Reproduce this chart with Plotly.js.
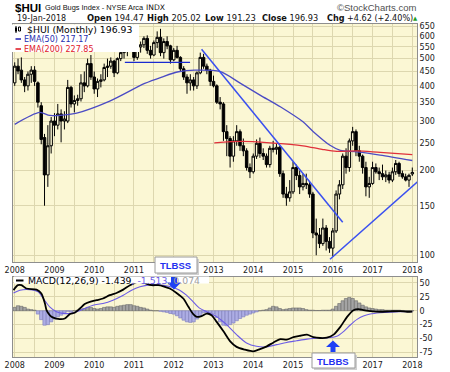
<!DOCTYPE html>
<html><head><meta charset="utf-8">
<script src="https://cdn.plot.ly/plotly-3.0.1.min.js"></script>
<style>html,body{margin:0;padding:0;background:#fff}#chart{width:450px;height:372px}</style>
</head><body><div id="chart"></div>
<script>
// ---------------- DATA ----------------
const firstYear = 2008, lastYear = 2018;
const yearTicks = [2008,2009,2010,2011,2012,2013,2014,2015,2016,2017,2018];
// labels as visible in the picture (2012 hidden by the TLBSS box, 2016 by the TLBBS box)
const topYearLabels = ['2008','2009','2010','2011','','2013','2014','2015','2016','2017','2018'];
const bottomYearLabels = ['2008','2009','2010','2011','2012','2013','2014','2015','','2017','2018'];
const priceTicks = [100,150,200,250,300,350,400,450,500,550,600,650];
const priceLabels = ['100','150','200','250','300','350','400','450','500','550','600','650'];
const macdTicks = [50,25,0,-25,-50,-75];
const macdLabels = ['50','25','0','-25','-50','-75'];

// Monthly OHLC, Jan 2008 .. Jan 2018
const open = [
 410,470,455,420,400,440,455,410,340,262,193,245,
 300,290,318,300,300,395,345,355,360,410,400,480,
 430,390,415,420,465,470,490,445,500,525,545,560,
 570,505,550,560,590,535,515,570,595,525,575,555,
 495,535,505,460,430,410,420,400,445,505,470,455,
 415,400,350,345,275,260,225,255,275,245,235,205,
 198,225,250,230,225,210,240,238,242,195,165,160,
 168,205,192,175,180,178,165,120,118,110,125,112,
 106,122,165,178,225,205,255,275,235,225,205,175,
 180,205,198,195,190,193,185,198,212,195,190,185,
 194.47];
const high = [
 485,500,505,430,450,470,470,415,350,270,290,310,
 320,345,330,325,420,400,370,372,440,450,500,515,
 450,425,440,480,500,505,495,505,530,555,575,580,
 575,560,575,600,605,555,580,625,638,590,600,560,
 545,555,510,470,440,440,430,450,525,520,480,460,
 435,405,365,350,290,265,265,290,280,260,240,212,
 230,258,262,240,230,245,255,250,245,200,175,185,
 215,210,200,195,195,182,168,135,125,135,128,116,
 125,170,185,230,240,260,286,280,245,228,215,190,
 215,212,205,210,200,198,205,218,215,200,195,195,
 205.02];
const low = [
 400,440,410,380,385,410,400,335,248,150,175,230,
 265,280,252,280,295,335,322,340,352,380,395,420,
 375,365,395,415,430,460,430,440,490,500,510,535,
 490,495,525,545,520,500,510,545,510,500,540,480,
 490,500,450,420,375,385,385,390,440,460,440,400,
 395,345,330,255,225,205,215,245,235,225,200,188,
 195,220,222,218,205,205,232,228,190,160,150,155,
 165,185,165,170,172,160,115,100,106,108,104,102,
 99,120,158,172,195,198,245,225,215,195,162,160,
 178,195,185,185,182,180,182,193,190,187,183,175,
 191.23];
const close = [
 470,452,420,400,440,455,415,350,258,193,245,300,
 290,318,300,305,395,345,355,360,410,400,480,430,
 390,415,420,465,470,490,445,500,525,545,560,570,
 505,550,560,590,535,515,570,595,525,575,555,495,
 535,505,460,430,410,420,400,445,505,470,455,415,
 400,350,345,275,260,225,255,275,245,235,205,198,
 225,250,230,225,210,240,238,242,195,165,160,168,
 205,192,175,180,178,165,120,118,110,125,112,106,
 122,165,178,225,205,255,275,235,225,205,175,180,
 205,198,195,190,193,185,198,212,195,190,185,192.31,
 196.93];

// EMA lines
const ema50X = [2008.0,2008.63,2008.88,2009.21,2009.56,2010.39,2011.27,2011.7,2012.12,2012.53,2013.16,2013.67,2014.17,2014.68,2015.25,2015.51,2015.93,2016.19,2016.61,2017.19,2018.0];
const ema50Y = [292,322,314,315,320,353,408,430,449,455,450,409,371,337,298,275,246,236,233,227,217.17];
const ema200X = [2013.02,2013.72,2014.42,2015.25,2015.73,2016.10,2016.61,2017.19,2018.0];
const ema200Y = [251,254,251,245,238,234,235,232,227.85];

// Trend lines
const trendDownX = [2012.70, 2016.25], trendDownY = [540, 131];
const trendUpX = [2015.93, 2018.2], trendUpY = [96.8, 186];
const supportX = [2010.77, 2012.41], supportY = [485, 485];

// MACD(12,26,9)
const macdX = [2007.97,2008.08,2008.17,2008.29,2008.55,2008.67,2008.76,2008.80,2008.88,2008.97,2009.13,2009.26,2009.39,2009.51,2009.64,2009.76,2009.89,2010.06,2010.22,2010.39,2010.56,2010.73,2010.90,2011.10,2011.25,2011.44,2011.61,2011.74,2011.90,2012.07,2012.24,2012.37,2012.49,2012.58,2012.70,2012.83,2012.95,2013.08,2013.25,2013.42,2013.58,2013.79,2014.00,2014.17,2014.34,2014.51,2014.68,2014.84,2015.01,2015.18,2015.35,2015.51,2015.68,2015.85,2016.02,2016.19,2016.36,2016.52,2016.65,2016.77,2016.94,2017.19,2017.45,2017.70,2017.87,2018.00];
const macdV = [37,46,46,40,38,31,13,1,-7.7,-12.5,-15,-14,-6,-3.6,4,12,16,19,22,28,32,38,46,52,50,46,46,44,40,32,22,7,-6,-11,-9.5,-5,-8,-20,-37,-55,-65,-70,-73,-69,-64,-57,-51,-52,-47.5,-45,-43,-47.5,-49,-48.5,-43,-29,-11,1,3,1,-0.6,-1.8,-1,-0.6,-1.8,-1.439];
const signalX = [2007.97,2008.13,2008.38,2008.59,2008.72,2008.88,2009.05,2009.21,2009.39,2009.56,2009.76,2009.97,2010.22,2010.47,2010.73,2010.94,2011.15,2011.40,2011.65,2011.90,2012.15,2012.32,2012.49,2012.66,2012.83,2013.08,2013.33,2013.58,2013.83,2014.08,2014.34,2014.59,2014.84,2015.09,2015.35,2015.60,2015.85,2016.10,2016.27,2016.44,2016.61,2016.77,2016.94,2017.19,2017.45,2017.70,2018.00];
const signalV = [32,37,38,34,22,7,-1.8,-4.8,-4.8,-1.8,4.2,10,13,19,28,37,43,46.6,46.6,43.6,37,28,16,4.2,-1.8,-10.7,-25,-43,-58,-64,-65,-61,-57,-54,-51,-49,-49,-46,-37.5,-25.6,-15.5,-9.5,-6,-3.6,-2.4,-1.8,-1.513];
const histV = [
 6,9,8,6,3,2,1,-6,-16,-26,-25,-20,
 -15,-11,-8,-4,-1,-2,0,1,3,4,6,6,
 4,3,4,6,7,7,6,8,9,10,11,11,
 9,8,6,5,3,1,0,0,-1,-2,-3,-5,
 -6,-9,-13,-17,-20,-21,-20,-15,-9,-4,-3,-4,
 -6,-12,-20,-26,-27,-25,-22,-18,-14,-11,-8,-6,
 -4,-2,0,1,2,5,8,7,4,2,3,4,
 5,5,5,4,2,1,1,0.5,0.5,1,1,1,
 3,8,13,18,22,24,22,18,14,10,7,5,
 4,3,2,2,1,1,1,1,1,0.5,0.3,0.2,
 0.074];

// candle x positions (one per month)
const monthX = [];
for (let y = firstYear; y < lastYear; y++) for (let m = 0; m < 12; m++) monthX.push(y + m / 12);
monthX.push(lastYear);

// ---------------- LAYOUT HELPERS ----------------
const L = 13, R = 417, T = 24, B = 357;
const px = x => (x - L) / (R - L);
const py = y => (B - y) / (B - T);
const BG = '#FBF7D4', GRID = '#DDD7AF', BORDER = '#8E8E8E';

function rect(x0, y0, x1, y1, fill, line) {
  return {type:'rect', xref:'paper', yref:'paper', x0:px(x0), x1:px(x1), y0:py(y1), y1:py(y0),
    fillcolor: fill, line: line ? {color: line, width: 1} : {width: 0}, layer:'above'};
}
function seg(x0, y0, x1, y1, color, w) {
  return {type:'line', xref:'paper', yref:'paper', x0:px(x0), x1:px(x1), y0:py(y0), y1:py(y1),
    line:{color: color, width: w}, layer:'above'};
}
function poly(pts, color) {
  const d = pts.map((p, i) => (i ? 'L' : 'M') + px(p[0]) + ',' + py(p[1])).join(' ') + ' Z';
  return {type:'path', xref:'paper', yref:'paper', path: d, fillcolor: color, line:{width:0}, layer:'above'};
}
function txt(text, x, y, size, color, family, anchor) {
  return {xref:'paper', yref:'paper', x:px(x), y:py(y), text:text, showarrow:false,
    xanchor: anchor || 'left', yanchor:'middle', font:{size:size, color:color, family:family}};
}
const DV = 'DejaVu Sans', LS = 'Liberation Sans';

// ---------------- TRACES ----------------
const traces = [
  {type:'candlestick', x:monthX, open:open, high:high, low:low, close:close, xaxis:'x', yaxis:'y',
   increasing:{line:{color:'#000', width:1}, fillcolor:BG},
   decreasing:{line:{color:'#000', width:1}, fillcolor:'#000'},
   whiskerwidth:0, hoverinfo:'skip'},
  {type:'scatter', mode:'lines', x:ema50X, y:ema50Y, xaxis:'x', yaxis:'y',
   line:{color:'#4B4BC4', width:1.3, shape:'spline', smoothing:0.8}, hoverinfo:'skip'},
  {type:'scatter', mode:'lines', x:ema200X, y:ema200Y, xaxis:'x', yaxis:'y',
   line:{color:'#E0303A', width:1.3, shape:'spline', smoothing:0.8}, hoverinfo:'skip'},
  {type:'scatter', mode:'lines', x:trendDownX, y:trendDownY, xaxis:'x', yaxis:'y',
   line:{color:'#3A50F0', width:1.5}, hoverinfo:'skip'},
  {type:'scatter', mode:'lines', x:trendUpX, y:trendUpY, xaxis:'x', yaxis:'y',
   line:{color:'#3A50F0', width:1.5}, hoverinfo:'skip'},
  {type:'scatter', mode:'lines', x:supportX, y:supportY, xaxis:'x', yaxis:'y',
   line:{color:'#1A2AD0', width:1.3}, hoverinfo:'skip'},
  {type:'bar', x:monthX, y:histV, xaxis:'x2', yaxis:'y2',
   marker:{color: histV.map(v => v >= 0 ? '#A4A4A4' : '#ADADE4'),
           line:{color: histV.map(v => v >= 0 ? '#6A6A6A' : '#7C7CBC'), width:0.6}}, hoverinfo:'skip'},
  {type:'scatter', mode:'lines', x:signalX, y:signalV, xaxis:'x2', yaxis:'y2',
   line:{color:'#6B5BE6', width:1.1, shape:'spline', smoothing:0.8}, hoverinfo:'skip'},
  {type:'scatter', mode:'lines', x:macdX, y:macdV, xaxis:'x2', yaxis:'y2',
   line:{color:'#000', width:1.8, shape:'spline', smoothing:0.8}, hoverinfo:'skip'}
];

const xBase = {
  range:[2007.957, 2018.118], tickmode:'array', tickvals:yearTicks,
  showgrid:true, gridcolor:GRID, gridwidth:1, zeroline:false, ticks:'',
  minor:{dtick:0.5, tick0:2008, showgrid:true, gridcolor:GRID, gridwidth:1},
  showline:true, mirror:true, linecolor:BORDER, linewidth:1,
  tickfont:{family:DV, size:8, color:'#222'}, fixedrange:true
};

const layout = {
  width:450, height:372, margin:{l:L, r:450 - R, t:T, b:372 - B, pad:0},
  paper_bgcolor:'#fff', plot_bgcolor:BG, showlegend:false,
  bargap:0, boxgap:0.25, boxgroupgap:0,
  xaxis: Object.assign({}, xBase, {anchor:'y', ticktext:topYearLabels, rangeslider:{visible:false}}),
  xaxis2: Object.assign({}, xBase, {anchor:'y2', ticktext:bottomYearLabels, matches:'x'}),
  yaxis: {type:'log', range:[1.976, 2.822], domain:[py(262), 1], side:'right', anchor:'x',
    tickmode:'array', tickvals:priceTicks, ticktext:priceLabels, showgrid:true, gridcolor:GRID,
    zeroline:false, ticks:'', showline:true, mirror:true, linecolor:BORDER,
    tickfont:{family:DV, size:8, color:'#222'}, fixedrange:true},
  yaxis2: {range:[-83.2, 60.7], domain:[0, py(277)], side:'right', anchor:'x2',
    tickmode:'array', tickvals:macdTicks, ticktext:macdLabels, showgrid:true, gridcolor:GRID,
    zeroline:false, ticks:'', showline:true, mirror:true, linecolor:BORDER,
    tickfont:{family:DV, size:8, color:'#222'}, fixedrange:true},
  shapes: [
    rect(11, 24.5, 139, 52, '#FFFFFF', null),
    rect(14, 276.5, 209, 283.5, '#FFFFFF', null),
    seg(16, 26, 16, 33, '#000', 1),
    rect(15, 27.5, 17, 31.5, '#000', null),
    rect(18.5, 27, 20.5, 31, '#fff', '#000'),
    seg(15.5, 39, 21, 39, '#2B2BB5', 1.6),
    seg(15.5, 49, 21, 49, '#E0202A', 1.6),
    seg(16, 280.5, 23.5, 280.5, '#000', 2),
    rect(157, 259, 199, 275, '#D0D0D0', null),
    rect(155, 257, 197, 273, '#FFFFFF', '#9A9A9A'),
    poly([[171,277],[177,277],[177,282.5],[181,282.5],[174,289.5],[167,282.5],[171,282.5]], '#1E40F5'),
    rect(314, 355, 357, 370, '#D0D0D0', null),
    rect(312, 353, 355, 368, '#FFFFFF', '#9A9A9A'),
    poly([[330.5,352],[335.5,352],[335.5,347],[340,347],[333,340.5],[326,347],[330.5,347]], '#1E40F5')
  ],
  annotations: [
    txt('<b>$HUI</b>', 13, 7.5, 11.5, '#000', LS),
    txt('Gold Bugs Index - NYSE Arca', 42.5, 8, 7.4, '#111', LS),
    txt('INDX', 144, 8, 7.6, '#111', DV),
    txt('\u00A9StockCharts.com', 418, 7.5, 9.5, '#505050', LS, 'right'),
    txt('19-Jan-2018', 15, 18.3, 8, '#111', DV),
    txt('<b>Open</b> 194.47', 85, 18.3, 8.4, '#111', DV),
    txt('<b>High</b> 205.02', 145, 18.3, 8.4, '#111', DV),
    txt('<b>Low</b> 191.23', 203, 18.3, 8.4, '#111', DV),
    txt('<b>Close</b> 196.93', 260, 18.3, 8.2, '#111', DV),
    txt('<b>Chg</b> +4.62 (+2.40%)', 325, 18.3, 8.1, '#111', DV),
    txt('\u25B2', 415.5, 18, 5.5, '#1E9E1E', DV, 'center'),
    txt('$HUI (Monthly) 196.93', 25, 29.5, 9.3, '#000', DV),
    txt('EMA(50) 217.17', 21.5, 39.2, 8, '#1F2FB0', DV),
    txt('EMA(200) 227.85', 21.5, 49.2, 8, '#E0202A', DV),
    txt('MACD(12,26,9) -1.439<span style="color:#6B5BE6">, -1.513</span><span style="color:#A0A0A0">, 0.074</span>', 26, 280.5, 9.3, '#000', DV),
    txt('<b>TLBSS</b>', 158, 265.5, 9.5, '#1F30F0', LS),
    txt('<b>TLBBS</b>', 314.5, 361, 9.5, '#1F30F0', LS)
  ]
};

Plotly.newPlot('chart', traces, layout, {staticPlot:true, displayModeBar:false});
</script></body></html>
